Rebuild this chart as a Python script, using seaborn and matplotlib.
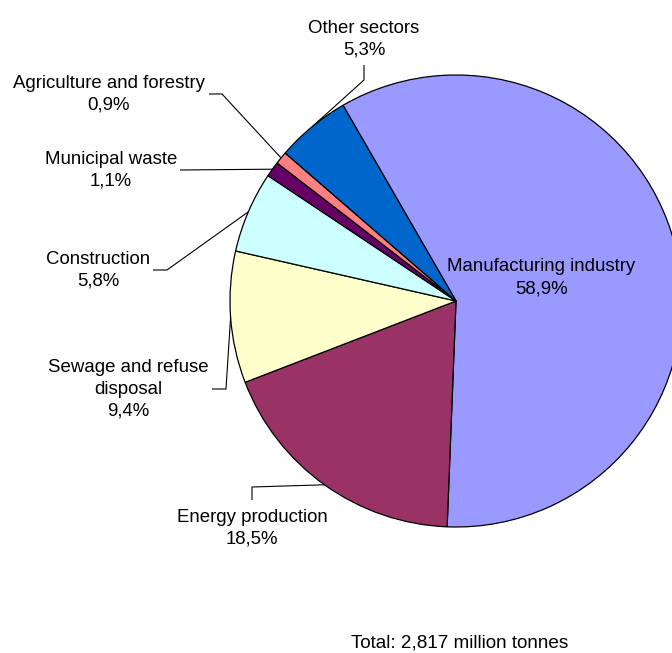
import numpy as np
import matplotlib
matplotlib.use("Agg")
import matplotlib.pyplot as plt
import seaborn as sns

# Emissions by sector (share of total, %)
sectors = ["Manufacturing industry", "Energy production", "Sewage and refuse\ndisposal",
           "Construction", "Municipal waste", "Agriculture and forestry", "Other sectors"]
shares = [58.9, 18.5, 9.4, 5.8, 1.1, 0.9, 5.3]
share_labels = ["58,9%", "18,5%", "9,4%", "5,8%", "1,1%", "0,9%", "5,3%"]
colors = ["#9999FF", "#993366", "#FFFFCC", "#CCFFFF", "#660066", "#FF8080", "#0066CC"]
total_note = "Total: 2,817 million tonnes"

sns.set_theme(style="white")
plt.rcParams["font.family"] = ["Liberation Sans", "DejaVu Sans"]
plt.rcParams["text.color"] = "black"

W, H = 672, 653
fig = plt.figure(figsize=(W / 100, H / 100), dpi=100)
ax = fig.add_axes([0, 0, 1, 1])

cx, cy, R = 456, H - 301, 226
start = 120
wedges, _ = ax.pie(shares, colors=colors, startangle=start, counterclock=False,
                   center=(cx, cy), radius=R, frame=True,
                   wedgeprops=dict(edgecolor="black", linewidth=0.9))
ax.set_xlim(0, W)
ax.set_ylim(0, H)
ax.set_axis_off()

def mid_angle(i):
    before = sum(shares[:i])
    a = start - 360 * (before + shares[i] / 2) / sum(shares)
    return np.deg2rad(a)

def rim(i, frac=1.0):
    a = mid_angle(i)
    return cx + frac * R * np.cos(a), cy + frac * R * np.sin(a)

fs = 13.4
ls = 1.38
def label(x, y, txt):
    ax.text(x, H - y, txt, ha="center", va="center", fontsize=fs,
            multialignment="center", linespacing=ls, color="black")

# Inside label for the largest slice
mx, my = rim(0, 0.39)
ax.text(mx, my + 2, f"{sectors[0]}\n{share_labels[0]}", ha="center", va="center",
        fontsize=fs, linespacing=ls, color="black")

# Outside labels: (label centre, leader elbow points in pixel coords)
outside = {
    1: ((252, 528), [(252, 500), (252, 487)]),
    2: ((128, 389), [(212, 389), (226, 389)]),
    3: ((98, 270), [(153, 270), (167, 270)]),
    4: ((111, 170), [(180, 170)]),
    5: ((109, 94), [(209, 94), (222, 94)]),
    6: ((364, 39), [(364, 65), (364, 80)]),
}
for i, ((lx, ly), pts) in outside.items():
    label(lx, ly, f"{sectors[i]}\n{share_labels[i]}")
    xs = [p[0] for p in pts]
    ys = [H - p[1] for p in pts]
    ex, ey = rim(i)
    xs.append(ex)
    ys.append(ey)
    ax.plot(xs, ys, color="black", linewidth=0.8, solid_capstyle="butt")

ax.text(460, H - 643, total_note, ha="center", va="center", fontsize=13.6, color="black")

fig.savefig("out.png", dpi=100)
